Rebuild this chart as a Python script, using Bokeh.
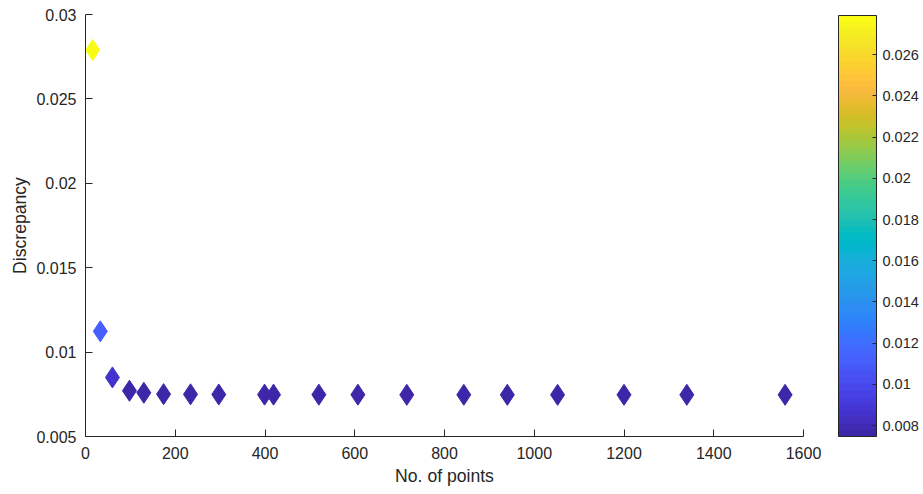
from bokeh.plotting import figure
from bokeh.models import (ColumnDataSource, LinearColorMapper, ColorBar, FixedTicker,
                          CustomJSTickFormatter, Range1d)
from bokeh.embed import file_html
from bokeh.resources import INLINE

# ---- data ----
n_points = [16, 33, 60, 98, 130, 174, 234, 297, 399, 419, 520, 607, 716, 843, 940, 1052, 1200, 1340, 1559]
discrepancy = [0.0279, 0.01123, 0.0085, 0.00771, 0.00759, 0.00751, 0.00750, 0.00749, 0.00748, 0.00748,
               0.00748, 0.00748, 0.00747, 0.00747, 0.00747, 0.00747, 0.00747, 0.00747, 0.00747]
x_ticks = [0, 200, 400, 600, 800, 1000, 1200, 1400, 1600]
y_ticks = [0.005, 0.01, 0.015, 0.02, 0.025, 0.03]
cbar_ticks = [0.008, 0.01, 0.012, 0.014, 0.016, 0.018, 0.02, 0.022, 0.024, 0.026]

# MATLAB parula (64 entries)
parula_rgb = [
    (0.2422, 0.1504, 0.6603), (0.2504, 0.1650, 0.7076), (0.2578, 0.1818, 0.7511), (0.2647, 0.1978, 0.7952),
    (0.2706, 0.2147, 0.8364), (0.2751, 0.2342, 0.8710), (0.2783, 0.2559, 0.8991), (0.2803, 0.2782, 0.9221),
    (0.2813, 0.3006, 0.9414), (0.2810, 0.3228, 0.9579), (0.2795, 0.3447, 0.9717), (0.2760, 0.3667, 0.9829),
    (0.2699, 0.3892, 0.9906), (0.2602, 0.4123, 0.9952), (0.2440, 0.4358, 0.9988), (0.2206, 0.4603, 0.9973),
    (0.1963, 0.4847, 0.9892), (0.1834, 0.5074, 0.9798), (0.1786, 0.5289, 0.9682), (0.1764, 0.5499, 0.9520),
    (0.1687, 0.5703, 0.9359), (0.1540, 0.5902, 0.9218), (0.1460, 0.6091, 0.9079), (0.1380, 0.6276, 0.8973),
    (0.1248, 0.6459, 0.8883), (0.1113, 0.6635, 0.8763), (0.0952, 0.6798, 0.8598), (0.0689, 0.6948, 0.8394),
    (0.0297, 0.7082, 0.8163), (0.0036, 0.7203, 0.7917), (0.0067, 0.7312, 0.7660), (0.0433, 0.7411, 0.7394),
    (0.0964, 0.7500, 0.7120), (0.1408, 0.7584, 0.6842), (0.1717, 0.7670, 0.6554), (0.1938, 0.7758, 0.6251),
    (0.2161, 0.7843, 0.5923), (0.2470, 0.7918, 0.5567), (0.2906, 0.7973, 0.5188), (0.3406, 0.8008, 0.4789),
    (0.3909, 0.8029, 0.4354), (0.4456, 0.8024, 0.3909), (0.5044, 0.7993, 0.3480), (0.5616, 0.7942, 0.3045),
    (0.6174, 0.7876, 0.2612), (0.6720, 0.7793, 0.2227), (0.7242, 0.7698, 0.1910), (0.7738, 0.7598, 0.1646),
    (0.8203, 0.7498, 0.1535), (0.8634, 0.7406, 0.1596), (0.9035, 0.7330, 0.1774), (0.9393, 0.7288, 0.2100),
    (0.9728, 0.7298, 0.2394), (0.9956, 0.7434, 0.2371), (0.9970, 0.7659, 0.2199), (0.9952, 0.7893, 0.2028),
    (0.9892, 0.8136, 0.1885), (0.9786, 0.8386, 0.1766), (0.9676, 0.8639, 0.1643), (0.9610, 0.8890, 0.1537),
    (0.9597, 0.9135, 0.1423), (0.9628, 0.9373, 0.1265), (0.9691, 0.9606, 0.1064), (0.9769, 0.9839, 0.0805),
]
parula = ["#%02x%02x%02x" % tuple(int(round(c * 255)) for c in rgb) for rgb in parula_rgb]

FONT = "Liberation Sans"
TXT = "#262626"

source = ColumnDataSource(dict(x=n_points, y=discrepancy))
mapper = LinearColorMapper(palette=parula, low=min(discrepancy), high=max(discrepancy))

p = figure(width=923, height=494, output_backend="svg", toolbar_location=None,
           x_range=Range1d(0, 1600), y_range=Range1d(0.005, 0.03),
           min_border_left=85, min_border_right=120, min_border_top=14, min_border_bottom=58)
p.outline_line_color = None
p.xgrid.visible = False
p.ygrid.visible = False
p.background_fill_color = "white"
p.border_fill_color = "white"

p.scatter("x", "y", source=source, marker="diamond", size=21,
          fill_color={"field": "y", "transform": mapper},
          line_color={"field": "y", "transform": mapper}, line_width=1)

fmt = CustomJSTickFormatter(code="return String(Math.round(tick*100000)/100000);")

for ax in (p.xaxis[0], p.yaxis[0]):
    ax.axis_line_color = TXT
    ax.major_tick_line_color = TXT
    ax.major_tick_in = 7
    ax.major_tick_out = 0
    ax.minor_tick_line_color = None
    ax.major_label_text_font = FONT
    ax.major_label_text_font_size = "16px"
    ax.major_label_text_color = TXT
    ax.axis_label_text_font = FONT
    ax.axis_label_text_font_size = "17.6px"
    ax.axis_label_text_font_style = "normal"
    ax.axis_label_text_color = TXT

p.xaxis.ticker = FixedTicker(ticks=x_ticks)
p.yaxis.ticker = FixedTicker(ticks=y_ticks)
p.yaxis.formatter = fmt
p.xaxis.axis_label = "No. of points"
p.yaxis.axis_label = "Discrepancy"
p.xaxis.major_label_standoff = 10
p.xaxis.axis_label_standoff = 4
p.yaxis.major_label_standoff = 9
p.yaxis.axis_label_standoff = 3

cb = ColorBar(color_mapper=mapper, ticker=FixedTicker(ticks=cbar_ticks), formatter=fmt,
              width=38, height=421, padding=0, margin=0, location=(753, 0),
              bar_line_color=TXT, bar_line_width=1,
              major_tick_line_color=TXT, major_tick_in=4, major_tick_out=0,
              minor_tick_line_color=None,
              major_label_text_font=FONT, major_label_text_font_size="14.5px",
              major_label_text_color=TXT, label_standoff=6,
              border_line_color=None, background_fill_color=None)
p.add_layout(cb, "center")

open("out.html", "w").write(file_html(p, INLINE))
